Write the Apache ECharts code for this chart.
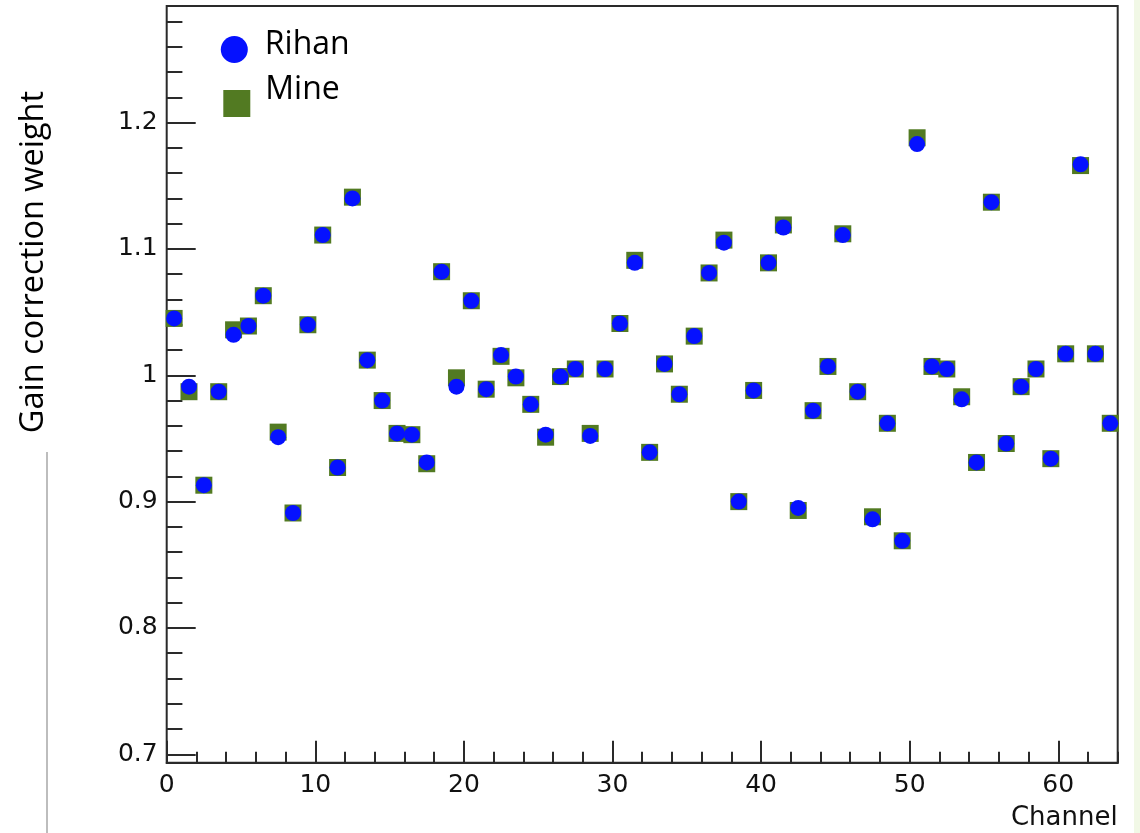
<!DOCTYPE html>
<html>
<head>
<meta charset="utf-8">
<script src="https://cdn.jsdelivr.net/npm/echarts@6/dist/echarts.min.js"></script>
<style>html,body{margin:0;padding:0;background:#fff}#c{width:1140px;height:833px}</style>
</head>
<body>
<div id="c"></div>
<script>
// Channel bin centres
const channels = [
  0.5, 1.5, 2.5, 3.5, 4.5, 5.5, 6.5, 7.5, 8.5, 9.5,
  10.5, 11.5, 12.5, 13.5, 14.5, 15.5, 16.5, 17.5, 18.5, 19.5,
  20.5, 21.5, 22.5, 23.5, 24.5, 25.5, 26.5, 27.5, 28.5, 29.5,
  30.5, 31.5, 32.5, 33.5, 34.5, 35.5, 36.5, 37.5, 38.5, 39.5,
  40.5, 41.5, 42.5, 43.5, 44.5, 45.5, 46.5, 47.5, 48.5, 49.5,
  50.5, 51.5, 52.5, 53.5, 54.5, 55.5, 56.5, 57.5, 58.5, 59.5,
  60.5, 61.5, 62.5, 63.5
];
// Gain correction weights, "Rihan"
const rihan = [
  1.045, 0.991, 0.913, 0.987, 1.032, 1.039, 1.063, 0.951, 0.891, 1.040,
  1.111, 0.927, 1.140, 1.012, 0.980, 0.954, 0.953, 0.931, 1.082, 0.991,
  1.059, 0.989, 1.016, 0.999, 0.977, 0.953, 0.999, 1.005, 0.952, 1.005,
  1.041, 1.089, 0.939, 1.009, 0.985, 1.031, 1.081, 1.105, 0.900, 0.988,
  1.089, 1.117, 0.895, 0.972, 1.007, 1.111, 0.987, 0.886, 0.962, 0.869,
  1.183, 1.007, 1.005, 0.981, 0.931, 1.137, 0.946, 0.991, 1.005, 0.934,
  1.017, 1.167, 1.017, 0.962
];
// Gain correction weights, "Mine"
const mine = [
  1.045, 0.987, 0.913, 0.987, 1.036, 1.039, 1.063, 0.955, 0.891, 1.040,
  1.111, 0.927, 1.141, 1.012, 0.980, 0.954, 0.953, 0.930, 1.082, 0.998,
  1.059, 0.989, 1.015, 0.998, 0.977, 0.951, 0.999, 1.005, 0.954, 1.005,
  1.041, 1.091, 0.939, 1.009, 0.985, 1.031, 1.081, 1.107, 0.900, 0.988,
  1.089, 1.119, 0.893, 0.972, 1.007, 1.112, 0.987, 0.888, 0.962, 0.869,
  1.188, 1.007, 1.005, 0.983, 0.931, 1.137, 0.946, 0.991, 1.005, 0.934,
  1.017, 1.166, 1.017, 0.962
];
const seriesNames = ['Rihan', 'Mine'];
const xTitle = 'Channel';
const yTitle = 'Gain correction weight';

const chart = echarts.init(document.getElementById('c'), null, {renderer: 'canvas'});
const axisColor = '#2a2a2a';
const tickFont = {fontFamily: 'DejaVu Sans', fontSize: 25, color: '#111'};
const legendFont = {fontFamily: 'Open Sans', fontSize: 32, color: '#000'};

const option = {
  backgroundColor: '#ffffff',
  animation: false,
  grid: [
    {left: 166.7, right: 22.3, top: 6, bottom: 70.3, show: true, borderColor: axisColor, borderWidth: 2,
     backgroundColor: 'transparent', containLabel: false},
    {left: 166.7, right: 22.3, top: 6, bottom: 78.7, containLabel: false}
  ],
  xAxis: [
    {gridIndex: 0, type: 'value', min: 0, max: 64, interval: 10, position: 'bottom',
     axisLine: {show: true, onZero: false, lineStyle: {color: axisColor, width: 2}},
     axisTick: {show: true, inside: true, length: 22, lineStyle: {color: axisColor, width: 2}},
     axisLabel: Object.assign({margin: 10, showMaxLabel: false}, tickFont),
     splitLine: {show: false},
     name: xTitle, nameLocation: 'end', nameGap: 0,
     nameTextStyle: {fontFamily: 'DejaVu Sans', fontSize: 26, color: '#111', align: 'right', verticalAlign: 'top', padding: [43, 0, 0, 0]}},
    {gridIndex: 0, type: 'value', min: 0, max: 64, interval: 2, position: 'bottom',
     axisLine: {show: false, onZero: false},
     axisTick: {show: true, inside: true, length: 11, lineStyle: {color: axisColor, width: 2}},
     axisLabel: {show: false}, splitLine: {show: false}},
    {gridIndex: 1, type: 'value', min: 0, max: 64, show: false}
  ],
  yAxis: [
    {gridIndex: 0, type: 'value', min: 0, max: 1, show: false},
    {gridIndex: 1, type: 'value', min: 0.7, max: 1.2923, interval: 0.1, position: 'left',
     axisLine: {show: false},
     axisTick: {show: true, inside: true, length: 29, lineStyle: {color: axisColor, width: 2}},
     axisLabel: Object.assign({margin: 9, showMaxLabel: false}, tickFont),
     splitLine: {show: false}},
    {gridIndex: 1, type: 'value', min: 0.7, max: 1.2923, interval: 0.02, position: 'left',
     axisLine: {show: false},
     axisTick: {show: true, inside: true, length: 15.7, lineStyle: {color: axisColor, width: 2}},
     axisLabel: {show: false}, splitLine: {show: false}}
  ],
  legend: [
    {data: [seriesNames[0]], left: 220.8, top: 29, padding: 0, itemWidth: 27, itemHeight: 27,
     icon: 'circle', selectedMode: false, formatter: '{t|{name}}',
     textStyle: Object.assign({rich: {t: Object.assign({padding: [0, 0, 9, 12]}, legendFont)}}, legendFont)},
    {data: [seriesNames[1]], left: 223.3, top: 74, padding: 0, itemWidth: 27, itemHeight: 27,
     icon: 'rect', selectedMode: false, formatter: '{t|{name}}',
     textStyle: Object.assign({rich: {t: Object.assign({padding: [0, 0, 27, 10]}, legendFont)}}, legendFont)}
  ],
  graphic: [
    {type: 'text', x: 34, y: 262, rotation: Math.PI / 2,
     style: {text: yTitle, fontFamily: 'Open Sans', fontSize: 32.5, fill: '#000', align: 'center', verticalAlign: 'middle'}},
    {type: 'line', shape: {x1: 47, y1: 452, x2: 47, y2: 833}, style: {stroke: '#bdbdbd', lineWidth: 2}},
    {type: 'rect', shape: {x: 1134, y: 0, width: 6, height: 833}, style: {fill: '#f1f8e6'}}
  ],
  series: [
    {name: seriesNames[1], type: 'scatter', xAxisIndex: 2, yAxisIndex: 1, symbol: 'rect', symbolSize: 17,
     itemStyle: {color: '#527a22', opacity: 1}, z: 2,
     data: channels.map((c, i) => [c, mine[i]])},
    {name: seriesNames[0], type: 'scatter', xAxisIndex: 2, yAxisIndex: 1, symbol: 'circle', symbolSize: 16,
     itemStyle: {color: '#0511ff', opacity: 1}, z: 3,
     data: channels.map((c, i) => [c, rihan[i]])}
  ]
};
chart.setOption(option);
</script>
</body>
</html>
